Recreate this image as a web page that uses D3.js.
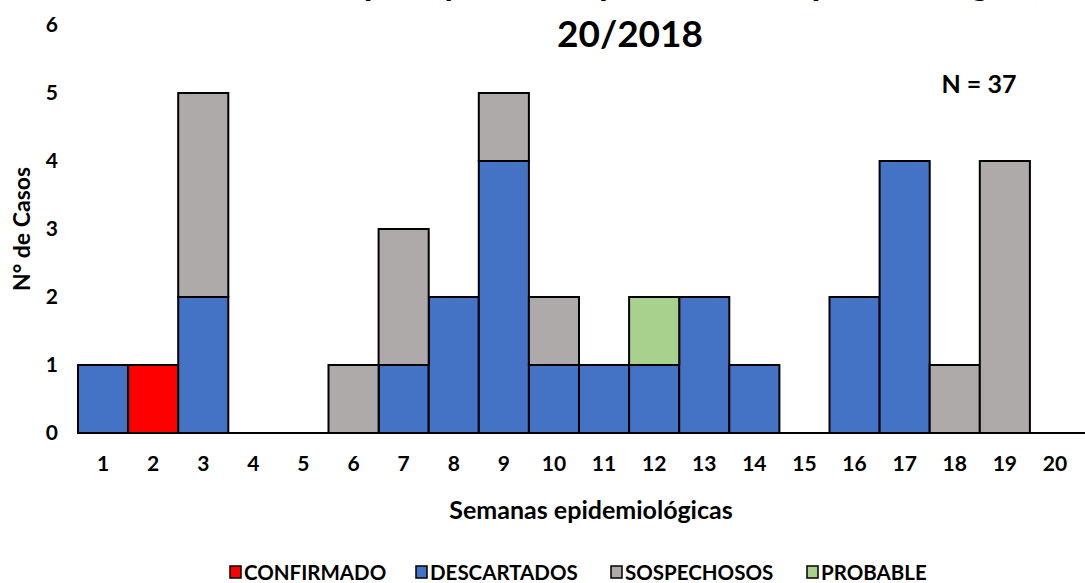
<!DOCTYPE html>
<html>
<head>
<meta charset="utf-8">
<script src="https://cdn.jsdelivr.net/npm/d3@7"></script>
<style>
  body { margin: 0; background: #fff; }
  svg { font-family: Lato, "Open Sans", sans-serif; font-weight: bold; }
</style>
</head>
<body>
<script>
// weeks and case counts per classification
var semanas = d3.range(1, 21).map(String);
var confirmado  = [0,1,0,0,0,0,0,0,0,0,0,0,0,0,0,0,0,0,0,0];
var descartados = [1,0,2,0,0,0,1,2,4,1,1,1,2,1,0,2,4,0,0,0];
var sospechosos = [0,0,3,0,0,1,2,0,1,1,0,0,0,0,0,0,0,1,4,0];
var probable    = [0,0,0,0,0,0,0,0,0,0,0,1,0,0,0,0,0,0,0,0];
var series = ["CONFIRMADO", "DESCARTADOS", "SOSPECHOSOS", "PROBABLE"];
var colores = ["#ff0000", "#4472c4", "#aeaaaa", "#a9d18e"];
var yTicks = [0, 1, 2, 3, 4, 5, 6];

var W = 1085, H = 583;
var svg = d3.select("body").append("svg")
	.attr("width", W)
	.attr("height", H);

var x = d3.scaleBand().domain(semanas).range([78, 1080]).padding(0);
var y = d3.scaleLinear().domain([0, 6]).range([433, 25]);

var rows = semanas.map(function(s, i) {
	return {semana: s, CONFIRMADO: confirmado[i], DESCARTADOS: descartados[i],
		SOSPECHOSOS: sospechosos[i], PROBABLE: probable[i]};
});
var stack = d3.stack().keys(series)(rows);

// title (first line runs off the top of the picture)
svg.append("text")
	.attr("x", 630).attr("y", -5)
	.attr("text-anchor", "middle")
	.style("font-size", "36px")
	.text("Casos de sarampión y rubéola por semana epidemiológica, SE 1 -");
svg.append("text")
	.attr("x", 630).attr("y", 47)
	.attr("text-anchor", "middle")
	.style("font-size", "37px")
	.text("20/2018");

svg.append("text")
	.attr("x", 979).attr("y", 93)
	.attr("text-anchor", "middle")
	.style("font-size", "25px")
	.text("N = 37");

// bars
stack.forEach(function(layer, k) {
	svg.append("g")
		.selectAll("rect")
		.data(layer.filter(function(d) { return d[1] > d[0]; }))
		.enter().append("rect")
		.attr("x", function(d) { return x(d.data.semana); })
		.attr("y", function(d) { return y(d[1]); })
		.attr("width", x.bandwidth())
		.attr("height", function(d) { return y(d[0]) - y(d[1]); })
		.style("fill", colores[k])
		.style("stroke", "black")
		.style("stroke-width", 2);
});

// x axis
var xAxis = svg.append("g")
	.attr("transform", "translate(0,433)")
	.call(d3.axisBottom(x).tickSize(0).tickPadding(23));
xAxis.select(".domain").attr("d", "M78,0H1085").style("stroke", "black").style("stroke-width", 2);
xAxis.selectAll("text").style("font-size", "21px").style("font-family", "Lato").style("font-weight", "bold").style("fill", "#000");

// y axis
var yAxis = svg.append("g")
	.attr("transform", "translate(58,0)")
	.call(d3.axisLeft(y).tickValues(yTicks).tickFormat(d3.format("d")).tickSize(0).tickPadding(0));
yAxis.select(".domain").remove();
yAxis.selectAll("text").style("font-size", "21px").style("font-family", "Lato").style("font-weight", "bold").style("fill", "#000");

// axis titles
svg.append("text")
	.attr("x", 591).attr("y", 519)
	.attr("text-anchor", "middle")
	.style("font-size", "25px")
	.text("Semanas epidemiológicas");
svg.append("text")
	.attr("transform", "translate(30,229) rotate(-90)")
	.attr("text-anchor", "middle")
	.style("font-size", "23px")
	.text("N° de Casos");

// legend
var legX = [230, 416, 611, 807];
var leg = svg.append("g").selectAll("g")
	.data(series)
	.enter().append("g")
	.attr("transform", function(d, i) { return "translate(" + legX[i] + ",566)"; });
leg.append("rect")
	.attr("width", 11).attr("height", 12)
	.style("fill", function(d, i) { return colores[i]; })
	.style("stroke", "black")
	.style("stroke-width", 1.5);
leg.append("text")
	.attr("x", 14).attr("y", 13.5)
	.style("font-size", "20.5px")
	.text(function(d) { return d; });
</script>
</body>
</html>
